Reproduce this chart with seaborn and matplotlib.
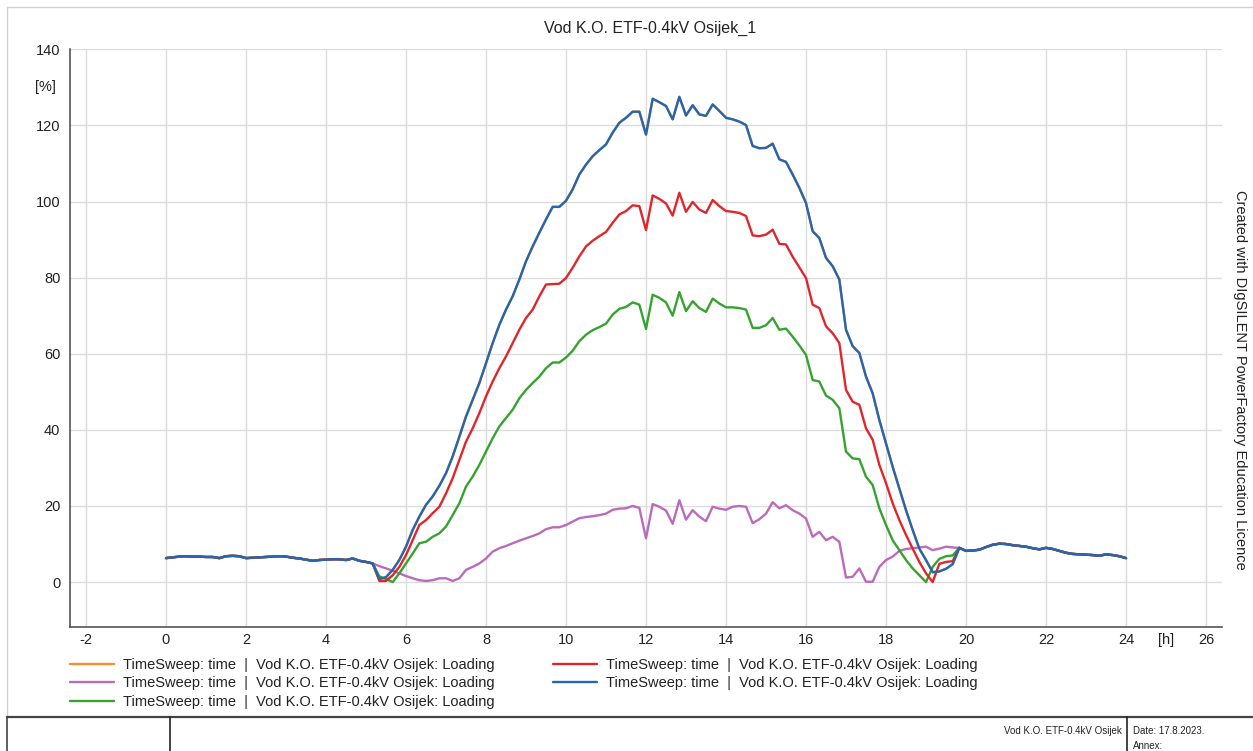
import numpy as np
import pandas as pd
import matplotlib
matplotlib.use("Agg")
import matplotlib.pyplot as plt
from matplotlib.ticker import MultipleLocator
from matplotlib.lines import Line2D
import seaborn as sns

# ---------------------------------------------------------------------------
# Loading of line "Vod K.O. ETF-0.4kV Osijek" [%], 10-minute time sweep
# ---------------------------------------------------------------------------
STEP_H = 1.0 / 6.0

# shared night-time values, 0:00 .. 5:10
morning = [6.3, 6.5, 6.7, 6.8, 6.7, 6.7, 6.6, 6.6, 6.3, 6.8, 6.9, 6.8,
           6.3, 6.4, 6.5, 6.6, 6.7, 6.8, 6.7, 6.4, 6.2, 5.9, 5.6, 5.8,
           5.9, 6.0, 6.0, 5.8, 6.2, 5.6, 5.3, 4.9]

# shared evening values, 19:50 .. 24:00
evening = [9.0, 8.2, 8.3, 8.5, 9.2, 9.8, 10.1, 10.0, 9.7, 9.5, 9.3, 8.9,
           8.6, 9.0, 8.7, 8.2, 7.7, 7.4, 7.3, 7.2, 7.1, 6.9, 7.3, 7.1,
           6.8, 6.3]

# daytime values, 5:20 .. 19:40
blue_day = [0.8, 1.3, 3.2, 5.8, 9.3, 13.7, 17.2, 20.3, 22.5, 25.3, 28.6, 33.0,
            38.2, 43.5, 47.9, 52.3, 57.5, 62.8, 67.6, 71.6, 75.1, 79.5, 84.3, 88.2,
            91.8, 95.3, 98.6, 98.6, 100.2, 103.2, 107.1, 109.7, 111.9, 113.5, 115.0, 118.1,
            120.7, 122.0, 123.6, 123.6, 117.6, 127.0, 126.1, 125.1, 121.6, 127.5, 122.6, 125.3,
            122.9, 122.5, 125.5, 123.8, 122.0, 121.6, 121.0, 120.1, 114.6, 114.0, 114.1, 115.2,
            111.1, 110.4, 107.1, 103.6, 99.6, 92.2, 90.4, 85.2, 83.0, 79.5, 66.3, 62.0,
            60.2, 54.0, 49.6, 42.6, 36.5, 30.3, 24.6, 18.9, 13.7, 8.8, 5.8, 2.6,
            2.8, 3.5, 4.7]

red_day = [0.3, 0.3, 1.8, 4.0, 7.1, 11.0, 15.0, 16.3, 18.1, 19.8, 23.3, 27.3,
           32.1, 36.9, 40.4, 44.4, 48.8, 52.7, 56.2, 59.3, 62.8, 66.3, 69.4, 71.6,
           75.1, 78.2, 78.3, 78.4, 79.9, 82.6, 85.6, 88.2, 89.7, 90.9, 92.0, 94.4,
           96.6, 97.5, 99.0, 98.8, 92.5, 101.6, 100.7, 99.5, 96.3, 102.3, 97.3, 99.9,
           97.9, 97.0, 100.4, 98.8, 97.5, 97.3, 97.0, 96.2, 91.1, 90.9, 91.3, 92.6,
           88.9, 88.7, 85.5, 82.7, 79.9, 72.9, 72.0, 67.2, 65.4, 62.8, 50.5, 47.4,
           46.6, 40.4, 37.4, 30.8, 26.0, 20.7, 16.3, 12.4, 8.8, 5.3, 2.3, 0.0,
           4.8, 5.3, 5.5]

green_day = [1.5, 0.8, 0.0, 2.3, 4.9, 7.5, 10.2, 10.6, 11.9, 12.8, 14.6, 17.6,
             20.7, 25.1, 27.7, 30.8, 34.3, 37.8, 40.9, 43.1, 45.3, 48.3, 50.5, 52.3,
             54.0, 56.2, 57.7, 57.7, 59.0, 60.8, 63.3, 65.0, 66.2, 67.0, 67.9, 70.3,
             71.8, 72.3, 73.5, 72.9, 66.5, 75.5, 74.7, 73.5, 70.0, 76.2, 71.2, 73.8,
             72.0, 71.0, 74.5, 73.2, 72.2, 72.2, 72.0, 71.6, 66.8, 66.8, 67.5, 69.4,
             66.3, 66.6, 64.5, 62.2, 59.7, 53.1, 52.7, 49.0, 47.9, 45.7, 34.3, 32.5,
             32.3, 27.7, 25.5, 19.4, 15.0, 11.0, 8.4, 5.8, 3.6, 1.8, 0.0, 4.0,
             6.1, 6.8, 7.0]

purple_day = [4.2, 3.6, 3.0, 2.3, 1.6, 1.0, 0.5, 0.3, 0.5, 1.0, 1.0, 0.3,
              1.0, 3.2, 4.0, 4.9, 6.2, 8.0, 8.9, 9.5, 10.2, 10.9, 11.5, 12.1,
              12.8, 13.9, 14.4, 14.4, 15.0, 15.9, 16.8, 17.1, 17.3, 17.6, 18.0, 19.0,
              19.3, 19.4, 20.0, 19.5, 11.5, 20.5, 19.8, 18.8, 15.3, 21.5, 16.4, 18.9,
              17.2, 16.0, 19.8, 19.3, 19.0, 19.8, 20.0, 19.8, 15.5, 16.5, 18.0, 21.0,
              19.4, 20.2, 18.9, 18.0, 16.7, 11.9, 13.2, 11.0, 11.9, 10.6, 1.2, 1.4,
              3.6, 0.1, 0.1, 4.0, 5.8, 6.7, 8.2, 8.7, 8.9, 9.1, 9.3, 8.4,
              8.8, 9.3, 9.1]

# the orange trace coincides with the blue one and lies underneath it
orange_day = list(blue_day)

series_names = ["orange", "purple", "green", "red", "blue"]
series_days = [orange_day, purple_day, green_day, red_day, blue_day]
series_colors = ["#f5912c", "#bb6bbb", "#36a22f", "#e1262b", "#2466b0"]

legend_text = "TimeSweep: time  |  Vod K.O. ETF-0.4kV Osijek: Loading"

frames = []
for name, day in zip(series_names, series_days):
    vals = morning + day + evening
    hours = np.arange(len(vals)) * STEP_H
    frames.append(pd.DataFrame({"time": hours, "loading": vals, "trace": name}))
data = pd.concat(frames, ignore_index=True)

# ---------------------------------------------------------------------------
# Figure
# ---------------------------------------------------------------------------
sns.set_theme(style="white")
plt.rcParams["font.family"] = ["Liberation Sans", "DejaVu Sans"]
plt.rcParams["axes.unicode_minus"] = False

W, H = 1253, 751
fig = plt.figure(figsize=(W / 100, H / 100), dpi=100)
fig.patch.set_facecolor("white")

ax_l, ax_r, ax_t, ax_b = 70, 1222, 49.3, 627
ax = fig.add_axes([ax_l / W, 1 - ax_b / H, (ax_r - ax_l) / W, (ax_b - ax_t) / H])

for name, color in zip(series_names, series_colors):
    sns.lineplot(data=data[data["trace"] == name], x="time", y="loading",
                 color=color, linewidth=1.7, ax=ax, estimator=None,
                 sort=False, legend=False)

ax.set_xlim(-2.4, 26.4)
ax.set_ylim(-11.8, 140)
ax.xaxis.set_major_locator(MultipleLocator(2))
ax.xaxis.set_minor_locator(MultipleLocator(1))
ax.yaxis.set_major_locator(MultipleLocator(20))
ax.yaxis.set_minor_locator(MultipleLocator(5))
ax.grid(True, which="major", color="#dcdcdc", linewidth=1.0)
ax.set_axisbelow(True)
ax.tick_params(which="major", length=0, labelsize=10.5, colors="#222222")
ax.tick_params(axis="y", which="major", pad=7)
ax.tick_params(axis="x", which="major", pad=4)
ax.tick_params(which="minor", direction="in", length=5, width=0.8, color="#bbbbbb")
ax.set_xlabel("")
ax.set_ylabel("")
for side in ("top", "right"):
    ax.spines[side].set_visible(False)
for side in ("left", "bottom"):
    ax.spines[side].set_color("#555555")
    ax.spines[side].set_linewidth(1.2)

# axis unit labels placed among the tick labels
ax.text(-0.012, 130, "[%]", transform=ax.get_yaxis_transform(),
        ha="right", va="center", fontsize=10.5, color="#222222")
ax.text(25, -0.011, "[h]", transform=ax.get_xaxis_transform(),
        ha="center", va="top", fontsize=10.5, color="#222222")

fig.text(650 / W, 1 - 28 / H, "Vod K.O. ETF-0.4kV Osijek_1",
         ha="center", va="center", fontsize=11.5, color="#222222")

fig.text(1240 / W, 1 - 380 / H,
         "Created with DIgSILENT PowerFactory Education Licence",
         rotation=270, ha="center", va="center", fontsize=10.5, color="#222222")

handles = [Line2D([], [], color=c, linewidth=1.7) for c in series_colors]
fig.legend(handles, [legend_text] * len(handles), ncol=2, frameon=False,
           loc="upper left", bbox_to_anchor=(70 / W, 1 - 658 / H),
           borderaxespad=0, borderpad=0, fontsize=10.5, handlelength=3.0,
           handletextpad=0.65, columnspacing=4.0, labelspacing=0.3,
           labelcolor="#222222")

# page frame and title block
def fig_line(x0, y0, x1, y1, color, lw):
    fig.add_artist(Line2D([x0 / W, x1 / W], [1 - y0 / H, 1 - y1 / H],
                          color=color, linewidth=lw))

fig_line(7, 7, 1253, 7, "#d0d0d0", 1.0)
fig_line(7, 7, 7, 717, "#d0d0d0", 1.0)
fig_line(7, 717, 1253, 717, "#444444", 1.6)
fig_line(7, 717, 7, 751, "#444444", 1.2)
fig_line(170, 717, 170, 751, "#222222", 1.2)
fig_line(1127, 717, 1127, 751, "#222222", 1.2)

fig.text(1122 / W, 1 - 731 / H, "Vod K.O. ETF-0.4kV Osijek",
         ha="right", va="center", fontsize=7, color="#222222")
fig.text(1133 / W, 1 - 731 / H, "Date: 17.8.2023.",
         ha="left", va="center", fontsize=7, color="#222222")
fig.text(1133 / W, 1 - 746 / H, "Annex:",
         ha="left", va="center", fontsize=7, color="#222222")

fig.savefig("out.png", dpi=100, facecolor="white")
